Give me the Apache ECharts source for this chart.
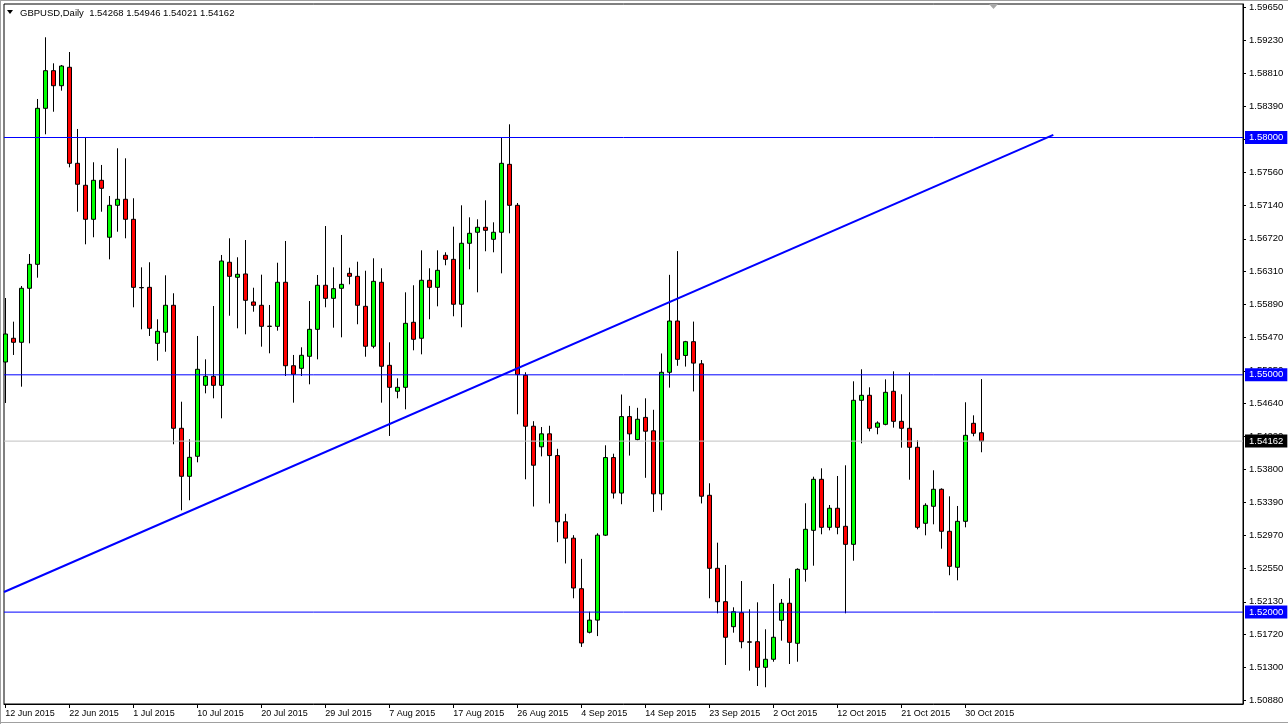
<!DOCTYPE html>
<html>
<head>
<meta charset="utf-8">
<script src="https://cdn.jsdelivr.net/npm/echarts@6/dist/echarts.min.js"></script>
<style>
html,body{margin:0;padding:0;background:#fff;}
#chart{width:1288px;height:724px;}
</style>
</head>
<body>
<div id="chart"></div>
<script>
// ---- data ----
const symbolName = 'GBPUSD';
const periodName = 'Daily';
const dateLabels = ['12 Jun 2015','22 Jun 2015','1 Jul 2015','10 Jul 2015','20 Jul 2015','29 Jul 2015','7 Aug 2015','17 Aug 2015','26 Aug 2015','4 Sep 2015','14 Sep 2015','23 Sep 2015','2 Oct 2015','12 Oct 2015','21 Oct 2015','30 Oct 2015'];
const barsPerDateLabel = 8;
const priceTicks = [1.5965,1.5923,1.5881,1.5839,1.5798,1.5756,1.5714,1.5672,1.5631,1.5589,1.5547,1.5505,1.5464,1.5422,1.5380,1.5339,1.5297,1.5255,1.5213,1.5172,1.5130,1.5088];
const openP = [1.55162,1.55462,1.55411,1.56094,1.56397,1.58369,1.58845,1.58655,1.58888,1.57674,1.57396,1.56966,1.57459,1.56739,1.57143,1.57219,1.56966,1.56104,1.56106,1.55398,1.55538,1.55879,1.54324,1.53717,1.53970,1.54867,1.54981,1.54867,1.56423,1.56233,1.56275,1.55921,1.55879,1.55615,1.55613,1.56170,1.55115,1.55082,1.55234,1.55575,1.56132,1.55967,1.56094,1.56283,1.56245,1.55866,1.55361,1.56170,1.55120,1.54792,1.54842,1.55664,1.55462,1.56195,1.56106,1.56511,1.56460,1.55892,1.56663,1.56802,1.56865,1.56713,1.56802,1.57661,1.57143,1.54994,1.54350,1.54090,1.54254,1.53979,1.53142,1.52935,1.52296,1.51745,1.51899,1.52973,1.53954,1.53505,1.54472,1.54181,1.54462,1.54292,1.53495,1.55032,1.55680,1.55245,1.55419,1.55139,1.53477,1.52554,1.52132,1.51816,1.51993,1.51624,1.51626,1.51302,1.51404,1.51897,1.52112,1.51606,1.52541,1.53034,1.53679,1.53072,1.53313,1.53085,1.52857,1.54678,1.54741,1.54337,1.54374,1.54792,1.54412,1.54324,1.54084,1.53123,1.53338,1.53553,1.53022,1.52567,1.53148,1.54387,1.54268];
const highP = [1.55971,1.55672,1.56123,1.56527,1.58487,1.59267,1.58938,1.58917,1.59081,1.58108,1.58003,1.57687,1.57653,1.57261,1.57864,1.57737,1.57232,1.56359,1.56423,1.55702,1.56258,1.56031,1.54660,1.54185,1.55491,1.55196,1.55870,1.56515,1.56726,1.56486,1.56704,1.56101,1.56266,1.55883,1.56417,1.56692,1.55251,1.55348,1.55933,1.56262,1.56881,1.56359,1.56768,1.56354,1.56430,1.56316,1.56473,1.56347,1.55411,1.54956,1.56043,1.56132,1.56574,1.56347,1.56574,1.56549,1.56873,1.57143,1.56991,1.56966,1.57206,1.56928,1.58003,1.58167,1.57172,1.55032,1.54414,1.54340,1.54356,1.54065,1.53243,1.52973,1.52673,1.52005,1.52997,1.54109,1.54003,1.54751,1.54607,1.54583,1.54703,1.54558,1.55270,1.56264,1.56564,1.55429,1.55673,1.55187,1.53629,1.52878,1.52596,1.52061,1.52393,1.52036,1.52124,1.51783,1.52356,1.52166,1.52428,1.52554,1.53376,1.53712,1.53818,1.53354,1.53721,1.53856,1.54918,1.55070,1.54842,1.54412,1.54943,1.55044,1.54754,1.55032,1.54172,1.53376,1.53793,1.53565,1.53464,1.53342,1.54653,1.54488,1.54946];
const lowP = [1.54644,1.55251,1.54850,1.55398,1.56228,1.58041,1.58326,1.58592,1.57623,1.57062,1.56650,1.56739,1.57062,1.56460,1.56809,1.56726,1.55854,1.55575,1.55491,1.55179,1.55292,1.54122,1.53287,1.53414,1.53894,1.54766,1.54703,1.54450,1.55747,1.55588,1.55512,1.55798,1.55356,1.55272,1.55558,1.54985,1.54648,1.54985,1.54880,1.55196,1.55854,1.55596,1.55474,1.56144,1.55639,1.55229,1.55335,1.54648,1.54227,1.54703,1.54564,1.55310,1.55259,1.55702,1.55866,1.56385,1.55740,1.55601,1.56334,1.56043,1.56562,1.56549,1.56283,1.56789,1.54501,1.53679,1.53335,1.53969,1.53374,1.52884,1.52615,1.52175,1.51560,1.51731,1.51697,1.52962,1.53436,1.53364,1.53979,1.54172,1.53698,1.53267,1.53287,1.54838,1.55114,1.55104,1.54790,1.53374,1.52175,1.51985,1.51332,1.51740,1.51543,1.51260,1.51066,1.51050,1.51373,1.51639,1.51344,1.51373,1.52385,1.52587,1.52984,1.53034,1.52984,1.51985,1.52650,1.54134,1.54286,1.54248,1.54362,1.54332,1.54079,1.53674,1.53047,1.52971,1.53110,1.52802,1.52466,1.52402,1.53072,1.54223,1.54021];
const closeP = [1.55516,1.55411,1.56094,1.56397,1.58369,1.58845,1.58655,1.58904,1.57674,1.57409,1.56966,1.57459,1.57358,1.57143,1.57219,1.56966,1.56106,1.56100,1.55588,1.55550,1.55879,1.54324,1.53717,1.53957,1.55070,1.54981,1.54867,1.56439,1.56245,1.56271,1.55942,1.55879,1.55613,1.55612,1.56170,1.55115,1.55007,1.55247,1.55575,1.56132,1.55967,1.56089,1.56144,1.56245,1.55879,1.55361,1.56182,1.55108,1.54842,1.54842,1.55651,1.55449,1.56195,1.56106,1.56321,1.56460,1.55892,1.56663,1.56789,1.56865,1.56827,1.56802,1.57674,1.57143,1.55003,1.54350,1.53857,1.54254,1.53979,1.53142,1.52935,1.52305,1.51610,1.51899,1.52973,1.53954,1.53505,1.54472,1.54254,1.54438,1.54287,1.53495,1.55032,1.55680,1.55196,1.55419,1.55148,1.53465,1.52554,1.52132,1.51682,1.52005,1.51626,1.51620,1.51302,1.51404,1.51682,1.52112,1.51618,1.52541,1.53047,1.53679,1.53072,1.53313,1.53072,1.52857,1.54678,1.54741,1.54324,1.54391,1.54779,1.54412,1.54324,1.54084,1.53072,1.53350,1.53553,1.53022,1.52579,1.53148,1.54235,1.54261,1.54162];
const levelLines = [1.58000, 1.55000, 1.52000];
const trendIndex = [-0.1625, 131.0];
const trendPrice = [1.52254, 1.58034];

// ---- chart ----
const FONT = '"Liberation Sans", Arial, sans-serif';
const n = openP.length;
const candles = openP.map((o, i) => [i, o, closeP[i], lowP[i], highP[i]]);
const bid = closeP[n - 1];
const xTicks = dateLabels.map((_, i) => i * barsPerDateLabel);
const fmt = v => Number(v).toFixed(5);
const xMin = -0.1625, xMax = 154.71;

const hLine = (v, lineColor, boxColor) => ({
  type: 'line',
  data: [[xMin, v], [xMax, v]],
  symbol: 'none', clip: true, silent: true, z: 5,
  color: lineColor,
  itemStyle: {color: lineColor},
  lineStyle: {color: lineColor, width: 1, opacity: 1},
  emphasis: {disabled: true},
  endLabel: {show: true, formatter: fmt(v), distance: 2, color: '#fff', backgroundColor: boxColor,
    padding: [2, 4, 1, 4], fontFamily: FONT, fontSize: 9.5}
});

const chart = echarts.init(document.getElementById('chart'), null, {renderer: 'canvas'});
const option = {
  animation: false,
  backgroundColor: '#ffffff',
  grid: {left: 4, right: 45, top: 4, bottom: 20, show: true, borderColor: '#000', borderWidth: 1, backgroundColor: '#fff', outerBoundsMode: 'none', containLabel: false},
  xAxis: {
    type: 'value', min: xMin, max: xMax, position: 'bottom',
    splitLine: {show: false},
    axisLine: {show: true, onZero: false, lineStyle: {color: '#000', width: 1}},
    axisTick: {show: true, length: 4, customValues: xTicks, lineStyle: {color: '#000'}},
    axisLabel: {show: true, customValues: xTicks, align: 'left', margin: 5, padding: 0,
      color: '#000', fontFamily: FONT, fontSize: 9,
      formatter: v => dateLabels[Math.round(v / barsPerDateLabel)] || ''}
  },
  yAxis: {
    type: 'value', position: 'right', min: 1.508385, max: 1.596879, scale: true,
    splitLine: {show: false},
    axisLine: {show: true, onZero: false, lineStyle: {color: '#000', width: 1}},
    axisTick: {show: true, length: 3, customValues: priceTicks, lineStyle: {color: '#000'}},
    axisLabel: {show: true, customValues: priceTicks, margin: 6, color: '#000', fontFamily: FONT, fontSize: 9.5,
      formatter: v => fmt(v)}
  },
  series: [
    {
      type: 'candlestick',
      data: candles,
      encode: {x: 0, y: [1, 2, 3, 4]},
      barWidth: 4,
      clip: true,
      z: 2,
      itemStyle: {color: '#00ff00', color0: '#ff0000', borderColor: '#000', borderColor0: '#000', borderColorDoji: '#000', borderWidth: 1},
      emphasis: {disabled: true}
    },
    hLine(bid, '#c0c0c0', '#000'),
    ...levelLines.map(v => hLine(v, '#0000ff', '#0000ff')),
    {
      type: 'line',
      data: trendIndex.map((x, i) => [x, trendPrice[i]]),
      symbol: 'none', clip: true, silent: true, z: 6,
      color: '#0000ff',
      lineStyle: {color: '#0000ff', width: 2},
      emphasis: {disabled: true}
    }
  ],
  graphic: [
    {type: 'line', shape: {x1: 0, y1: 0.5, x2: 1288, y2: 0.5}, style: {stroke: '#a0a0a0', lineWidth: 1}},
    {type: 'line', shape: {x1: 0.5, y1: 0, x2: 0.5, y2: 724}, style: {stroke: '#a0a0a0', lineWidth: 1}},
    {type: 'line', shape: {x1: 0, y1: 722.5, x2: 1288, y2: 722.5}, style: {stroke: '#a0a0a0', lineWidth: 1}},
    {type: 'polygon', shape: {points: [[7, 10], [13, 10], [10, 14]]}, style: {fill: '#000'}},
    {type: 'polygon', shape: {points: [[989, 4], [998, 4], [993.5, 9]]}, style: {fill: '#a8a8a8'}},
    {type: 'text', left: 20, top: 8, z: 100,
      style: {text: symbolName + ',' + periodName + '  ' + [openP[n-1], highP[n-1], lowP[n-1], closeP[n-1]].map(fmt).join(' '),
        font: '9.5px ' + FONT, fill: '#000'}}
  ]
};
chart.setOption(option);
</script>
</body>
</html>
